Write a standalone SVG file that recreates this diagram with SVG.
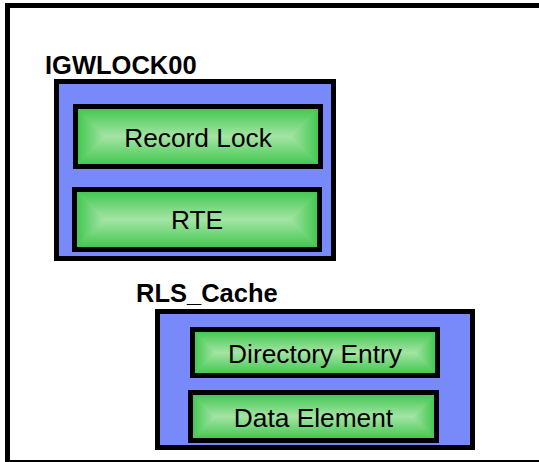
<svg xmlns="http://www.w3.org/2000/svg" width="539" height="462" viewBox="0 0 539 462">
<defs>
<linearGradient id="gv" x1="0" y1="0" x2="0" y2="1">
<stop offset="0" stop-color="#44c852"/><stop offset="0.5" stop-color="#a4e4a4"/><stop offset="1" stop-color="#44c852"/>
</linearGradient>
<linearGradient id="gl" x1="0" y1="0" x2="1" y2="0">
<stop offset="0" stop-color="#44c852"/><stop offset="1" stop-color="#a4e4a4"/>
</linearGradient>
<linearGradient id="gr" x1="1" y1="0" x2="0" y2="0">
<stop offset="0" stop-color="#44c852"/><stop offset="1" stop-color="#a4e4a4"/>
</linearGradient>
</defs>
<style>
.frame{fill:#fff;stroke:#000;stroke-width:5}
.cont{fill:#7889fa;stroke:#000;stroke-width:5}
.edge{fill:none;stroke:#000;stroke-width:5}
.gv{fill:url(#gv)}
.gl{fill:url(#gl)}
.gr{fill:url(#gr)}
.title{font-family:"Liberation Sans",Arial,sans-serif;font-size:25.5px;font-weight:bold;fill:#000}
.lbl{font-family:"Liberation Sans",Arial,sans-serif;font-size:26.3px;fill:#000;text-anchor:middle}
</style>
<rect width="539" height="462" fill="#fff"/>
<rect class="frame" x="7.5" y="5.5" width="600" height="457"/>
<g id="IGWLOCK00">
<text class="title" x="45" y="74">IGWLOCK00</text>
<rect class="cont" x="56.5" y="81.5" width="277" height="177"/>
</g>
<g id="RecordLock">
<rect class="gv" x="78" y="109" width="240" height="55"/>
<polygon class="gl" points="78,109 105.5,136.5 78,164"/>
<polygon class="gr" points="318,109 290.5,136.5 318,164"/>
<rect class="edge" x="75.5" y="106.5" width="245" height="60"/>
<text class="lbl" x="198" y="147">Record Lock</text>
</g>
<g id="RTE">
<rect class="gv" x="77" y="192" width="240" height="55"/>
<polygon class="gl" points="77,192 104.5,219.5 77,247"/>
<polygon class="gr" points="317,192 289.5,219.5 317,247"/>
<rect class="edge" x="74.5" y="189.5" width="245" height="60"/>
<text class="lbl" x="197" y="229">RTE</text>
</g>
<g id="RLS_Cache">
<text class="title" x="136" y="302">RLS_Cache</text>
<rect class="cont" x="157.5" y="311.5" width="315" height="136"/>
</g>
<g id="DirectoryEntry">
<rect class="gv" x="195" y="332" width="240" height="41"/>
<polygon class="gl" points="195,332 215.5,352.5 195,373"/>
<polygon class="gr" points="435,332 414.5,352.5 435,373"/>
<rect class="edge" x="192.5" y="329.5" width="245" height="46"/>
<text class="lbl" x="315" y="363">Directory Entry</text>
</g>
<g id="DataElement">
<rect class="gv" x="193" y="395" width="241" height="43"/>
<polygon class="gl" points="193,395 214.5,416.5 193,438"/>
<polygon class="gr" points="434,395 412.5,416.5 434,438"/>
<rect class="edge" x="190.5" y="392.5" width="246" height="48"/>
<text class="lbl" x="313.5" y="427">Data Element</text>
</g>
<g id="connectors"/>
</svg>
